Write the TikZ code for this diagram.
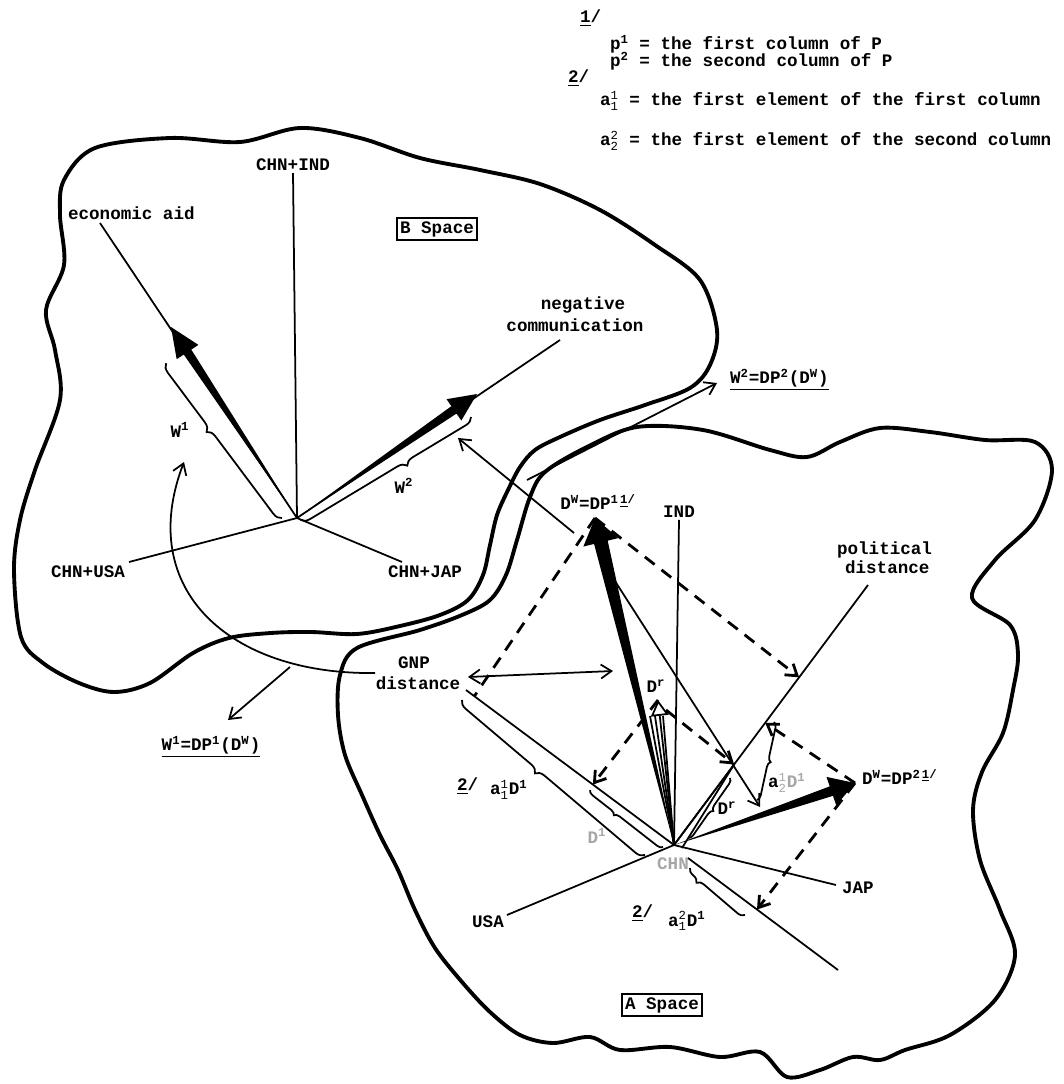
\documentclass[tikz,border=0pt]{standalone}
\usepackage{fontspec}
\setmonofont{Liberation Mono}
\usetikzlibrary{calc,positioning,arrows.meta,decorations.pathreplacing}
\newcommand{\supsub}[3]{#1$^{\mathtt{#2}}_{\mathtt{#3}}$}

\begin{document}
\begin{tikzpicture}[x=0.02cm,y=-0.02cm,
    lbl/.style={font=\ttfamily\bfseries\fontsize{10}{11}\selectfont, inner sep=1pt},
    faint/.style={lbl, text=black!35},
    blob/.style={line width=2.2pt, line join=round},
    axis/.style={line width=1pt},
    proj/.style={line width=1.6pt, dash pattern=on 7pt off 5pt},
    tip/.style={-{Straight Barb[length=6pt,width=8pt]}},
    spacebox/.style={lbl, draw, line width=1.2pt, inner sep=2pt},
    vbrace/.style={decorate, decoration={brace, amplitude=5pt, #1}, line width=1pt},
    vbrace/.default={},
]
\tikzset{
  pics/fatvec/.style args={#1:#2:#3:#4:#5}{
    code={
      \coordinate (hb) at ($(#2)!#4!(#1)$);
      \fill (#1) -- ($(hb)!#3!90:(#2)$) -- ($(hb)!#5!90:(#2)$) -- (#2)
        -- ($(hb)!#5!-90:(#2)$) -- ($(hb)!#3!-90:(#2)$) -- cycle;
    }
  }
}
\useasboundingbox (0,0) rectangle (1063,1084);

% the two spaces
\draw[blob] plot[smooth cycle, tension=0.55] coordinates {
  (64,180) (95,148) (170,138) (240,142) (300,128) (360,138) (420,158)
  (480,170) (540,184) (600,210) (655,245) (700,280) (717,330) (710,365)
  (690,388) (645,405) (600,420) (560,437) (535,450) (520,467) (508,490)
  (497,515) (490,545) (483,575) (468,600) (440,615) (400,626) (357,634)
  (311,632) (271,633) (229,638) (193,653) (150,683) (114,692) (79,683)
  (43,663) (21,637) (14,570) (20,520) (35,470) (60,400) (55,350) (46,310)
  (64,265) (60,215)};
\draw[blob] plot[smooth cycle, tension=0.55] coordinates {
  (770,450) (807,457) (840,442) (880,428) (930,432) (985,440) (1035,442)
  (1052,470) (1035,520) (995,560) (972,598) (1010,625) (1018,655)
  (1013,690) (1003,733) (982,772) (973,810) (980,860) (1000,910)
  (1015,955) (995,1000) (950,1035) (905,1050) (880,1060) (853,1057)
  (820,1070) (787,1077) (760,1052) (720,1057) (670,1047) (620,1050)
  (590,1037) (553,1043) (520,1035) (490,1012) (462,982) (435,948)
  (415,910) (398,870) (380,835) (362,795) (345,755) (338,715) (340,675)
  (357,648) (420,630) (462,615) (490,600) (506,575) (517,540) (530,497)
  (545,472) (587,447) (637,427) (703,430)};

% footnotes
\node[lbl, anchor=west] (fn1) at (578,18) {\underline{1}/};
\node[lbl, anchor=west] (p1) at (608,44) {p\textsuperscript{1} = the first column of P};
\node[lbl, anchor=west] (p2) at (608,61) {p\textsuperscript{2} = the second column of P};
\node[lbl, anchor=west] (fn2) at (566,78) {\underline{2}/};
\node[lbl, anchor=west] (a11) at (598,101) {\supsub{a}{1}{1} = the first element of the first column};
\node[lbl, anchor=west] (a22) at (598,141) {\supsub{a}{2}{2} = the first element of the second column};

% B space
\coordinate (OB) at (297,518);
\coordinate (econend) at (100,223);
\coordinate (commend) at (560,340);
\coordinate (busaend) at (129,562);
\coordinate (bjapend) at (402,562);
\coordinate (W1) at (171,327);
\coordinate (W2) at (477,394);
\node[lbl] (bind) at (293,165) {CHN+IND};
\node[lbl, anchor=west] (econ) at (66,213) {economic aid};
\node[lbl] (neg) at (583,305) {negative};
\node[lbl] (comm) at (575,325) {communication};
\node[lbl] (busa) at (88,572) {CHN+USA};
\node[lbl] (bjap) at (425,572) {CHN+JAP};
\node[spacebox] (bsp) at (437,229) {B Space};
\draw[axis] (OB) -- (bind.south);
\draw[axis] (OB) -- (econend);
\draw[axis] (OB) -- (commend);
\draw[axis] (OB) -- (busaend);
\draw[axis] (OB) -- (bjapend);
\pic {fatvec=OB:W1:0.09cm:0.6cm:0.26cm};
\pic {fatvec=OB:W2:0.09cm:0.56cm:0.26cm};
\draw[vbrace={aspect=0.59}] (282,518) -- (166,363);
\node[lbl] (w1) at (180,430) {W\textsuperscript{1}};
\draw[vbrace={aspect=0.4}] (471,417) -- (300,520);
\node[lbl] (w2) at (404,486) {W\textsuperscript{2}};

% A space
\coordinate (OA) at (674,845);
\coordinate (gnpend) at (466,690);
\coordinate (polend) at (868,585);
\coordinate (usaend) at (507,915);
\coordinate (japend) at (836,885);
\coordinate (lowstart) at (688,858);
\coordinate (lowend) at (838,970);
\coordinate (D1) at (595,518);
\coordinate (D2) at (855,783);
\coordinate (Dr) at (658,700);
\node[lbl] (ind) at (679,512) {IND};
\node[lbl] (gnp) at (414,663) {GNP};
\node[lbl] (gnpd) at (418,683) {distance};
\node[lbl, anchor=west] (pol) at (835,550) {political};
\node[lbl, anchor=west] (pold) at (843,567) {distance};
\node[lbl] (usa) at (488,922) {USA};
\node[lbl, anchor=west] (jap) at (840,888) {JAP};
\node[faint] (chn) at (673,864) {CHN};
\node[spacebox] (asp) at (662,1005) {A Space};
\draw[axis] (OA) -- (ind.south);
\draw[axis] (OA) -- (gnpend);
\draw[axis] (OA) -- (polend);
\draw[axis] (OA) -- (usaend);
\draw[axis] (OA) -- (japend);
\draw[axis] (lowstart) -- (lowend);

\coordinate (pg1) at ($(OA)!0.96!(gnpend)$);
\coordinate (pr1) at ($(OA)!0.39!(gnpend)$);
\coordinate (pp1) at ($(OA)!0.645!(polend)$);
\coordinate (pp2) at ($(OA)!0.47!(polend)$);
\coordinate (pr2) at ($(OA)!0.31!(polend)$);
\coordinate (pl2) at ($(lowstart)!0.46!(lowend)$);

\draw[proj] (D1) -- (pg1);
\draw[proj, tip] (D1) -- (pp1);
\draw[proj, tip] (D2) -- (pp2);
\draw[proj, tip] (D2) -- (pl2);
\draw[proj, tip] (Dr) -- (pr1);
\draw[proj, tip] ($(Dr)+(8,10)$) -- (pr2);

\coordinate (fan1) at (650,716);
\coordinate (fan2) at (655,716);
\coordinate (fan3) at (663,716);
\draw[axis] (OA) -- (fan1);
\draw[axis] (OA) -- (fan2);
\draw[axis] (OA) -- (fan3);
\draw[axis, -{Triangle[open, length=9pt, width=10pt]}] (OA) -- (Dr);
\node[lbl] (drl) at (656,686) {D\textsuperscript{r}};
\draw[axis] (OA) -- (pr2);
\draw[axis] ($(OA)+(8,3)$) -- (pr2);

\pic {fatvec=OA:D1:0.14cm:0.5cm:0.36cm};
\pic {fatvec=OA:D2:0.1cm:0.5cm:0.3cm};
\node[lbl, anchor=south] (d1l) at (598,512) {D\textsuperscript{W}=DP\textsuperscript{1\,\underline{1}/}};
\node[lbl, anchor=west] (d2l) at (860,777) {D\textsuperscript{W}=DP\textsuperscript{2\,\underline{1}/}};

\coordinate (rotstart) at (613,578);
\coordinate (rotend) at (760,807);
\draw[axis, tip] (rotstart) -- (rotend);
\draw[axis, <->, >={Straight Barb[length=6pt,width=8pt]}] (468,677) -- (613,671);

% braces in A space
\draw[vbrace={aspect=0.57}] (645,855) -- (462,700);
\node[lbl, anchor=west] (fa1) at (455,786) {\underline{2}/};
\node[lbl, anchor=west] (a1d) at (488,790) {\supsub{a}{1}{1}D\textsuperscript{1}};
\draw[vbrace={aspect=0.63, amplitude=3pt}] (663,847) -- (590,790);
\node[faint] (d1f) at (597,836) {D\textsuperscript{1}};
\draw[vbrace={amplitude=3pt}] (774,722) -- (757,800);
\node[lbl, anchor=west] (a2d) at (766,783) {a{\color{black!35}$^{\mathtt{1}}_{\mathtt{2}}$D\textsuperscript{1}}};
\draw[vbrace={amplitude=3pt}] (730,778) -- (688,838);
\node[lbl] (drp) at (727,808) {D\textsuperscript{r}};
\draw[vbrace={aspect=0.8, amplitude=4pt}] (745,915) -- (690,868);
\node[lbl, anchor=west] (fa2) at (630,913) {\underline{2}/};
\node[lbl, anchor=west] (a3d) at (666,921) {\supsub{a}{2}{1}D\textsuperscript{1}};

% mappings between spaces
\coordinate (toW2s) at (574,533);
\coordinate (toW2e) at (458,438);
\draw[axis, tip] (toW2s) -- (toW2e);
\coordinate (chs) at (527,480);
\coordinate (che) at (717,383);
\draw[axis, tip] (chs) -- (che);
\node[lbl, anchor=west] (w2eq) at (728,380) {\underline{W\textsuperscript{2}=DP\textsuperscript{2}(D\textsuperscript{W})}};
\coordinate (gnpcurve) at (375,673);
\coordinate (w1head) at (184,462);
\draw[axis, tip] (gnpcurve) .. controls (230,675) and (135,590) .. (w1head);
\coordinate (w1as) at (290,667);
\coordinate (w1ae) at (228,720);
\draw[axis, tip] (w1as) -- (w1ae);
\node[lbl] (w1eq) at (211,747) {\underline{W\textsuperscript{1}=DP\textsuperscript{1}(D\textsuperscript{W})}};
\end{tikzpicture}
\end{document}
